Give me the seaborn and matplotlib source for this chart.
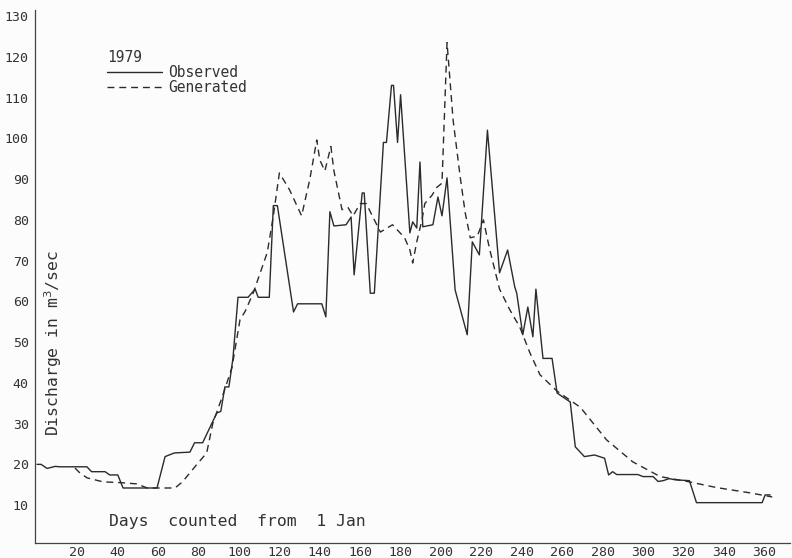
import matplotlib
matplotlib.use("Agg")
import matplotlib.pyplot as plt
import seaborn as sns
import pandas as pd

# Daily discharge, 1979 (day counted from 1 Jan, m3/sec)
obs_day = [0, 2, 5, 9, 11.4, 24.7, 27, 33.7, 36, 40, 42.6, 59.4, 63.4, 68, 75.7, 78,
           82, 89, 91, 93, 95, 97, 99.5, 104.5, 108, 109.5, 115, 117, 119, 127, 129,
           141, 143, 145, 147, 153, 155.5, 157, 161, 162, 165, 167, 171.5, 173, 175.5,
           176.5, 178.5, 180, 184.6, 186, 188, 189.6, 191, 196, 198.5, 200.5, 203, 207,
           213, 215.5, 219, 223, 229, 233, 236.5, 237.5, 240.5, 243, 245.5, 247,
           250.5, 255, 257.5, 264, 266.5, 271, 276, 281, 283, 285, 287, 297.5, 300,
           305, 307.5, 310, 313, 316, 323, 326.5, 359, 360.5, 363]
obs_val = [20, 20, 19, 19.5, 19.4, 19.4, 18.2, 18.2, 17.4, 17.4, 14.2, 14.2, 21.9, 22.8,
           23, 25.3, 25.3, 32.6, 33, 39, 39, 46, 61, 61, 63, 61, 61, 83.5, 83.5, 57.4,
           59.4, 59.4, 56.2, 82, 78.5, 78.8, 80.7, 66.5, 86.6, 86.6, 62, 62, 99, 99, 113,
           113, 99, 110.7, 76.8, 79.5, 78, 94.2, 78.3, 78.8, 85.6, 81, 90.3, 62.8, 51.8,
           74.6, 71.4, 102, 67, 72.6, 63.6, 62, 51.8, 58.6, 51.3, 63, 46, 46, 37.5,
           35.3, 24.3, 21.9, 22.3, 21.5, 17.4, 18.2, 17.5, 17.5, 17, 17, 15.8, 16,
           16.5, 16.2, 16, 10.6, 10.6, 12.5, 12.5]

gen_day = [18.8, 21, 24.7, 32.7, 42, 49.5, 54.5, 68.3, 72, 79, 84, 87, 92, 96.5, 100.5,
           103, 107, 114, 117, 120, 125, 131, 135, 138.5, 140, 142.5, 145.5, 147, 151,
           154, 156.5, 160, 163, 166, 170, 176, 182, 184.6, 186, 188, 190.6, 192,
           195.5, 198, 200.5, 203, 206, 209.5, 212, 214.5, 218, 221, 224, 229, 234,
           239, 244, 249, 257.4, 269, 282, 295, 308.5, 323, 336.5, 353, 364]
gen_val = [19.1, 18, 16.7, 15.7, 15.5, 15.2, 14.2, 14.2, 15.7, 19.9, 22.8, 30, 37, 43.7,
           55.5, 57.5, 62, 72, 81, 91.5, 87.4, 81, 89.8, 99.6, 94.7, 92, 98, 92, 82.5,
           83, 81, 84, 84, 81, 77, 78.8, 75.6, 72.6, 69.4, 74.6, 80, 84, 86, 88, 89,
           123.5, 104.5, 90.6, 81.7, 75.6, 76, 80, 73, 63, 58, 53.7, 47.4, 42, 38, 34,
           26, 20.6, 17, 15.7, 14.3, 13, 12]

x_ticks = list(range(20, 361, 20))
y_ticks = list(range(10, 131, 10))

observed = pd.DataFrame({"day": obs_day, "discharge": obs_val})
generated = pd.DataFrame({"day": gen_day, "discharge": gen_val})

sns.set_theme(style="white")
plt.rcParams["font.family"] = ["DejaVu Sans Mono", "DejaVu Sans"]

ink = "#2b2b2b"
fig = plt.figure(figsize=(7.92, 5.58), dpi=100, facecolor="#fcfcfc")
ax = fig.add_axes([35 / 792, 15 / 558, 755 / 792, 533 / 558])
ax.set_facecolor("#fcfcfc")

sns.lineplot(data=observed, x="day", y="discharge", ax=ax, color=ink, lw=1.0,
             estimator=None, sort=False, label="Observed")
sns.lineplot(data=generated, x="day", y="discharge", ax=ax, color=ink, lw=1.0,
             estimator=None, sort=False, label="Generated", dashes=False)
ax.lines[1].set_dashes((5, 3.5))

ax.set_xlim(-1, 372.8)
ax.set_ylim(0.7, 131.5)
ax.set_xticks(x_ticks)
ax.set_yticks(y_ticks)
ax.set_xticklabels([str(t) for t in x_ticks], fontsize=9.5, color="#333333")
ax.set_yticklabels([str(t) for t in y_ticks], fontsize=9.5, color="#333333")
ax.tick_params(axis="both", direction="inout", length=5, width=0.8, colors="#444444",
               labelcolor="#333333")
ax.tick_params(axis="x", pad=0)
ax.tick_params(axis="y", pad=2)

for side in ("top", "right"):
    ax.spines[side].set_visible(False)
for side in ("left", "bottom"):
    ax.spines[side].set_color("#444444")
    ax.spines[side].set_linewidth(0.9)

ax.set_xlabel("")
ax.set_ylabel("")
ax.text(0.268, 0.04, "Days  counted  from  1 Jan", transform=ax.transAxes,
        ha="center", va="center", fontsize=11.8, color="#333333")
ax.text(0.024, 0.375, "Discharge in m$^3$/sec", transform=ax.transAxes,
        ha="center", va="center", rotation=90, fontsize=11.8, color="#333333")

leg = ax.legend(title="1979", loc="upper left", bbox_to_anchor=(0.095, 0.925),
                frameon=False, fontsize=10.5, title_fontsize=10.5, handlelength=3.8,
                handletextpad=0.4, labelspacing=0.0, borderpad=0, borderaxespad=0,
                alignment="left")
for t in leg.get_texts():
    t.set_color("#333333")
leg.get_title().set_color("#333333")

fig.savefig("out.png", dpi=100, facecolor=fig.get_facecolor())
